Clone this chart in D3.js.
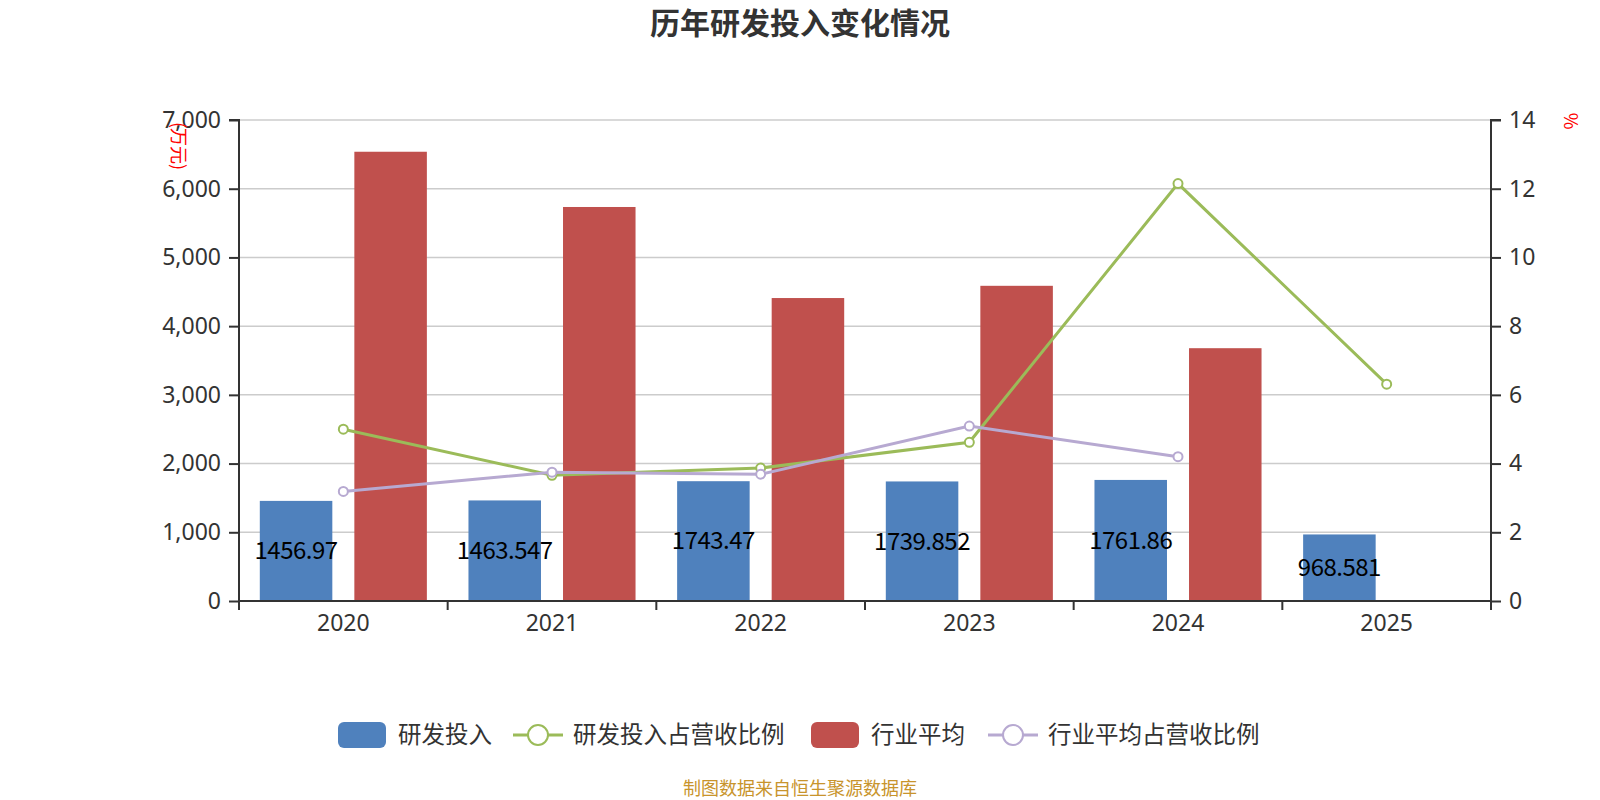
<!DOCTYPE html>
<html>
<head>
<meta charset="utf-8">
<script src="https://cdn.jsdelivr.net/npm/d3@7/dist/d3.min.js"></script>
<style>
  body { margin: 0; background: #fff; }
  svg { font-family: "Noto Sans CJK SC", "Noto Sans", sans-serif; }
</style>
</head>
<body>
<svg width="1600" height="800"></svg>
<script>
const years = ['2020', '2021', '2022', '2023', '2024', '2025'];
const rdInvest = [1456.97, 1463.547, 1743.47, 1739.852, 1761.86, 968.581];
const industryAvg = [6538, 5734, 4409, 4587, 3679, null];
const rdRatio = [5.00, 3.66, 3.87, 4.62, 12.15, 6.31];
const industryRatio = [3.19, 3.75, 3.69, 5.09, 4.20, null];
const leftTicks = [0, 1000, 2000, 3000, 4000, 5000, 6000, 7000];
const rightTicks = [0, 2, 4, 6, 8, 10, 12, 14];

const svg = d3.select('svg');
const plotL = 239, plotR = 1491, plotT = 120, plotB = 601;

const xScale = d3.scaleBand().domain(years).range([plotL, plotR]);
const sub = d3.scaleBand().domain([0, 1]).range([0, xScale.bandwidth()])
  .paddingInner(0.233).paddingOuter(0.22);
const yLeft = d3.scaleLinear().domain([0, 7000]).range([plotB, plotT]);
const yRight = d3.scaleLinear().domain([0, 14]).range([plotB, plotT]);

// grid
svg.append('g')
  .selectAll('line')
  .data(leftTicks.slice(1))
  .enter().append('line')
  .attr('x1', plotL).attr('x2', plotR)
  .attr('y1', d => yLeft(d)).attr('y2', d => yLeft(d))
  .attr('stroke', '#ccc').attr('stroke-width', 1.5);

// bars
svg.append('g')
  .selectAll('rect')
  .data(years.map((y, i) => ({y, v: rdInvest[i]})))
  .enter().append('rect')
  .attr('x', d => xScale(d.y) + sub(0))
  .attr('y', d => yLeft(d.v))
  .attr('width', sub.bandwidth())
  .attr('height', d => plotB - yLeft(d.v))
  .attr('fill', '#4f81bd');

svg.append('g')
  .selectAll('rect')
  .data(years.map((y, i) => ({y, v: industryAvg[i]})).filter(d => d.v != null))
  .enter().append('rect')
  .attr('x', d => xScale(d.y) + sub(1))
  .attr('y', d => yLeft(d.v))
  .attr('width', sub.bandwidth())
  .attr('height', d => plotB - yLeft(d.v))
  .attr('fill', '#c0504d');

// bar labels
svg.append('g')
  .selectAll('text')
  .data(years.map((y, i) => ({y, v: rdInvest[i]})))
  .enter().append('text')
  .attr('x', d => xScale(d.y) + sub(0) + sub.bandwidth() / 2)
  .attr('y', d => (yLeft(d.v) + plotB) / 2)
  .attr('dy', '0.35em')
  .attr('text-anchor', 'middle')
  .attr('font-size', 24)
  .attr('letter-spacing', -0.5)
  .attr('fill', '#000')
  .text(d => d.v);

// axes
const axisColor = '#333';
const gL = svg.append('g').attr('transform', `translate(${plotL},0)`)
  .call(d3.axisLeft(yLeft).tickValues(leftTicks).tickSize(10).tickPadding(8).tickFormat(d3.format(',')));
const gR = svg.append('g').attr('transform', `translate(${plotR},0)`)
  .call(d3.axisRight(yRight).tickValues(rightTicks).tickSize(10).tickPadding(8));
const gX = svg.append('g').attr('transform', `translate(0,${plotB})`)
  .call(d3.axisBottom(xScale).tickSize(0).tickPadding(14));
[gL, gR, gX].forEach(g => {
  g.select('.domain').attr('stroke', axisColor).attr('stroke-width', 2);
  g.selectAll('.tick line').attr('stroke', axisColor).attr('stroke-width', 2);
  g.selectAll('.tick text').attr('fill', '#333').attr('font-size', 23)
    .attr('font-family', '"Noto Sans", sans-serif');
});
gL.select('.domain').attr('d', `M-10,${plotT}H0V${plotB}`);
gR.select('.domain').attr('d', `M10,${plotT}H0V${plotB}`);
gX.select('.domain').attr('d', `M${plotL},0H${plotR}`);
// boundary ticks on x axis
gX.selectAll('.bt')
  .data(years.concat(['end']))
  .enter().append('line')
  .attr('x1', (d, i) => i < years.length ? xScale(d) : plotR)
  .attr('x2', (d, i) => i < years.length ? xScale(d) : plotR)
  .attr('y1', 0).attr('y2', 9)
  .attr('stroke', axisColor).attr('stroke-width', 2);

// lines
function drawLine(values, color) {
  const pts = years.map((y, i) => ({y, v: values[i]})).filter(d => d.v != null);
  const line = d3.line()
    .x(d => xScale(d.y) + xScale.bandwidth() / 2)
    .y(d => yRight(d.v));
  svg.append('path')
    .datum(pts)
    .attr('d', line)
    .attr('fill', 'none')
    .attr('stroke', color)
    .attr('stroke-width', 3);
  svg.append('g')
    .selectAll('circle')
    .data(pts)
    .enter().append('circle')
    .attr('cx', d => xScale(d.y) + xScale.bandwidth() / 2)
    .attr('cy', d => yRight(d.v))
    .attr('r', 4.5)
    .attr('fill', '#fff')
    .attr('stroke', color)
    .attr('stroke-width', 2);
}
drawLine(rdRatio, '#9bbb59');
drawLine(industryRatio, '#b7a9d1');

// title
svg.append('text')
  .attr('x', 800).attr('y', 34)
  .attr('text-anchor', 'middle')
  .attr('font-size', 30)
  .attr('font-weight', 'bold')
  .attr('fill', '#333')
  .text('历年研发投入变化情况');

// axis names
svg.append('text')
  .attr('transform', 'translate(172,146) rotate(90)')
  .attr('text-anchor', 'middle')
  .attr('font-size', 18)
  .attr('fill', '#ff0000')
  .text('(万元)');
svg.append('text')
  .attr('transform', 'translate(1564,121) rotate(90)')
  .attr('text-anchor', 'middle')
  .attr('font-size', 18)
  .attr('fill', '#ff0000')
  .text('%');

// legend
const legend = [
  {name: '研发投入', color: '#4f81bd', type: 'bar', x: 338},
  {name: '研发投入占营收比例', color: '#9bbb59', type: 'line', x: 513},
  {name: '行业平均', color: '#c0504d', type: 'bar', x: 811},
  {name: '行业平均占营收比例', color: '#b7a9d1', type: 'line', x: 988}
];
const ly = 735;
const lg = svg.append('g');
legend.forEach(l => {
  if (l.type === 'bar') {
    lg.append('rect').attr('x', l.x).attr('y', ly - 13).attr('width', 48).attr('height', 26)
      .attr('rx', 6).attr('fill', l.color);
  } else {
    lg.append('line').attr('x1', l.x).attr('x2', l.x + 50).attr('y1', ly).attr('y2', ly)
      .attr('stroke', l.color).attr('stroke-width', 3);
    lg.append('circle').attr('cx', l.x + 25).attr('cy', ly).attr('r', 10)
      .attr('fill', '#fff').attr('stroke', l.color).attr('stroke-width', 2);
  }
  lg.append('text').attr('x', l.x + 60).attr('y', ly).attr('dy', '0.35em')
    .attr('font-size', 23.5).attr('fill', '#333').text(l.name);
});

// footer
svg.append('text')
  .attr('x', 800).attr('y', 795)
  .attr('text-anchor', 'middle')
  .attr('font-size', 18)
  .attr('fill', '#c8942c')
  .text('制图数据来自恒生聚源数据库');
</script>
</body>
</html>
